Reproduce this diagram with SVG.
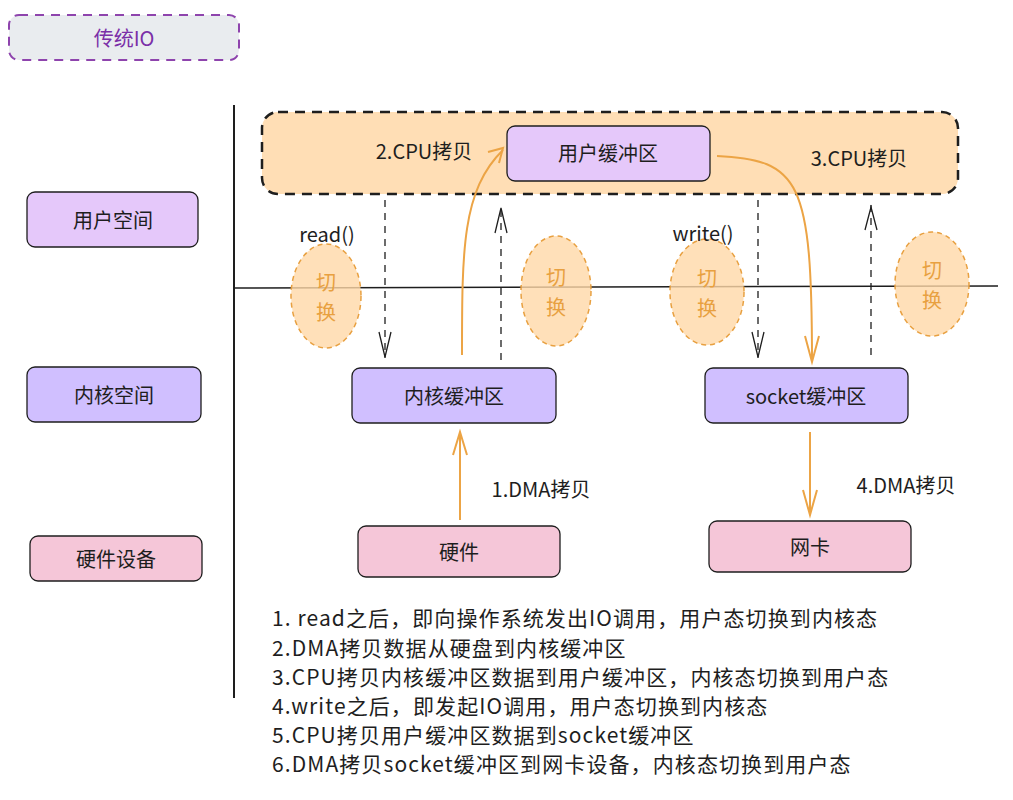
<svg xmlns="http://www.w3.org/2000/svg" width="1013" height="800" viewBox="0 0 1013 800">
<defs>
<style>
text{font-family:"Noto Sans CJK SC","Liberation Sans",sans-serif;font-size:20px;fill:#1e1e1e;text-anchor:middle;dominant-baseline:central}
.lbl{text-anchor:start;font-size:21px;letter-spacing:1.1px}
.sw{fill:#ffd8a8;fill-opacity:.8;stroke:#e8a040;stroke-width:1.5;stroke-dasharray:5 4}
.swt{fill:#e8a040}
.purple{fill:#d0bfff;stroke:#1e1e1e;stroke-width:1.3}
.lilac{fill:#e5c8fa;stroke:#1e1e1e;stroke-width:1.3}
.pink{fill:#f5c6d8;stroke:#1e1e1e;stroke-width:1.3}
.dash{stroke:#1e1e1e;stroke-width:1.3;stroke-dasharray:7 6;fill:none}
.or{stroke:#eca445;stroke-width:2;fill:none}
.ah{stroke:#1e1e1e;stroke-width:1.3;fill:none}
.oh{stroke:#eca445;stroke-width:2;fill:none}
</style>
</defs>
<rect width="1013" height="800" fill="#fff"/>
<g id="title"><rect x="9" y="15" width="230" height="45" rx="10" fill="#e9ecef" stroke="#8e44ad" stroke-width="2" stroke-dasharray="9 7"/><text x="124" y="37" style="fill:#7b2fa8">传统IO</text></g>
<g id="axes"><line x1="234" y1="105" x2="234" y2="698" stroke="#1e1e1e" stroke-width="2"/><line x1="234" y1="288" x2="998" y2="286" stroke="#1e1e1e" stroke-width="1.5"/></g>
<g id="userspace-box"><rect x="262" y="112" width="696" height="82" rx="16" fill="#ffd8a8" fill-opacity=".85" stroke="#1e1e1e" stroke-width="2.5" stroke-dasharray="10 7"/></g>
<g id="side-labels">
<rect x="27" y="192" width="171" height="55" rx="8" class="lilac"/><text x="113" y="219">用户空间</text>
<rect x="27" y="367" width="174" height="55" rx="8" class="purple"/><text x="114" y="394">内核空间</text>
<rect x="30" y="536" width="172" height="45" rx="8" class="pink"/><text x="116" y="558">硬件设备</text>
</g>
<g id="user-buf"><rect x="507" y="126" width="203" height="55" rx="8" class="lilac"/><text x="608" y="152">用户缓冲区</text></g>
<g id="kernel-buf"><rect x="352" y="368" width="204" height="55" rx="8" class="purple"/><text x="454" y="395">内核缓冲区</text></g>
<g id="socket-buf"><rect x="705" y="368" width="203" height="55" rx="8" class="purple"/><text x="806" y="395">socket缓冲区</text></g>
<g id="hw"><rect x="358" y="526" width="202" height="51" rx="8" class="pink"/><text x="459" y="551">硬件</text></g>
<g id="nic"><rect x="709" y="521" width="202" height="51" rx="8" class="pink"/><text x="810" y="546">网卡</text></g>
<g id="switches">
<ellipse cx="326" cy="296" rx="35" ry="52" class="sw"/><text x="326" y="281" class="swt">切</text><text x="326" y="311" class="swt">换</text>
<ellipse cx="556" cy="291" rx="35" ry="55" class="sw"/><text x="556" y="276" class="swt">切</text><text x="556" y="306" class="swt">换</text>
<ellipse cx="707" cy="292" rx="37" ry="53" class="sw"/><text x="707" y="277" class="swt">切</text><text x="707" y="307" class="swt">换</text>
<ellipse cx="932" cy="284" rx="37" ry="52" class="sw"/><text x="932" y="269" class="swt">切</text><text x="932" y="299" class="swt">换</text>
</g>
<g id="connectors">
<line x1="385" y1="200" x2="385" y2="358" class="dash"/><path d="M379 332 L385 357 L391 332" class="ah"/>
<line x1="501" y1="360" x2="501" y2="205" class="dash"/><path d="M495 233 L501 208 L507 233" class="ah"/>
<line x1="758" y1="200" x2="758" y2="358" class="dash"/><path d="M752 332 L758 357 L764 332" class="ah"/>
<line x1="871" y1="355" x2="871" y2="205" class="dash"/><path d="M865 230 L871 207 L877 230" class="ah"/>
<path d="M462 355 C462 250 462 190 503 150" class="or"/><path d="M488 152 L503 148 L499 163" class="oh"/>
<path d="M717 156 C800 160 812 180 812 362" class="or"/><path d="M805 336 L812 362 L819 336" class="oh"/>
<line x1="460" y1="520" x2="460" y2="432" class="or"/><path d="M453 455 L460 432 L467 455" class="oh"/>
<line x1="810" y1="432" x2="810" y2="515" class="or"/><path d="M803 490 L810 515 L817 490" class="oh"/>
</g>
<g id="labels">
<text x="424" y="150">2.CPU拷贝</text>
<text x="859" y="157">3.CPU拷贝</text>
<text x="327" y="233">read()</text>
<text x="703" y="232">write()</text>
<text x="541" y="488">1.DMA拷贝</text>
<text x="906" y="484">4.DMA拷贝</text>
</g>
<g id="notes">
<text x="272" y="617" class="lbl">1. read之后，即向操作系统发出IO调用，用户态切换到内核态</text>
<text x="272" y="647" class="lbl">2.DMA拷贝数据从硬盘到内核缓冲区</text>
<text x="272" y="676" class="lbl">3.CPU拷贝内核缓冲区数据到用户缓冲区，内核态切换到用户态</text>
<text x="272" y="705" class="lbl">4.write之后，即发起IO调用，用户态切换到内核态</text>
<text x="272" y="734" class="lbl">5.CPU拷贝用户缓冲区数据到socket缓冲区</text>
<text x="272" y="763" class="lbl">6.DMA拷贝socket缓冲区到网卡设备，内核态切换到用户态</text>
</g>
</svg>
